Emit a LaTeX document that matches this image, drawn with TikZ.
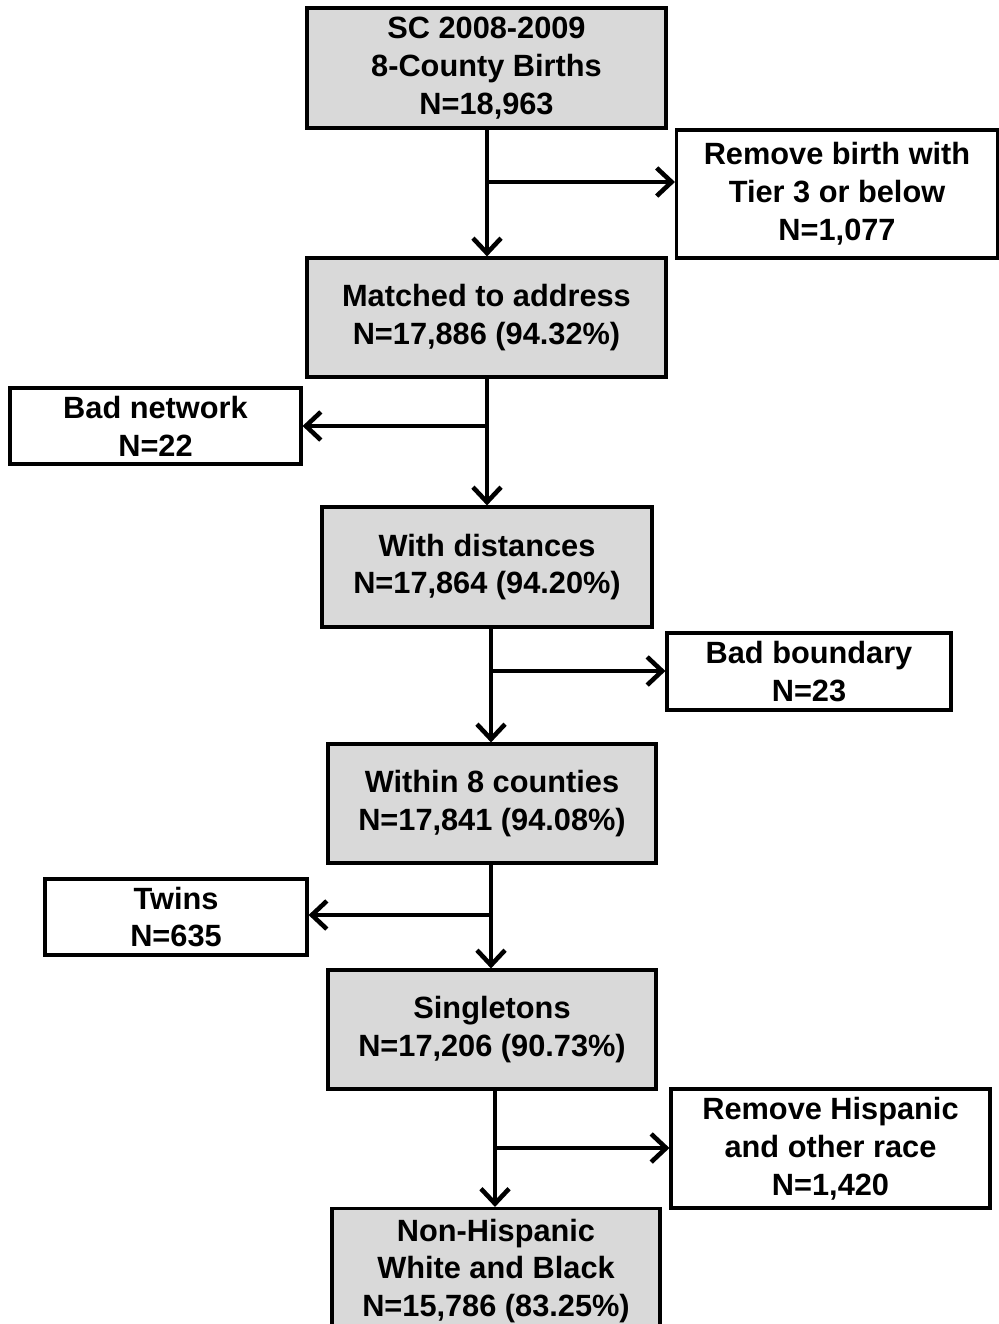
\documentclass[tikz,border=0pt]{standalone}
\usepackage{fontspec}
\setmainfont{Liberation Sans}
\usetikzlibrary{arrows.meta}
\definecolor{boxgray}{HTML}{D9D9D9}

\begin{document}
\begin{tikzpicture}[x=0.02cm,y=-0.02cm,
  base/.style={draw,line width=1.8pt,align=center,inner sep=0pt,
    font=\fontsize{17.5}{21.5}\selectfont\bfseries},
  keep/.style={base,fill=boxgray},
  drop/.style={base,fill=white},
  arr/.style={line width=2.6pt,-{Straight Barb[length=8.5pt,width=16pt]}}]
  \useasboundingbox (0,0) rectangle (999,1324);
  % main stream
  \node[keep,minimum width=7.18cm,minimum height=2.4cm] (births) at (486.5,68)
    {SC 2008-2009\\8-County Births\\N=18,963};
  \node[keep,minimum width=7.18cm,minimum height=2.38cm] (matched) at (486.5,317.5)
    {Matched to address\\N=17,886 (94.32\%)};
  \node[keep,minimum width=6.6cm,minimum height=2.4cm] (dist) at (487,567)
    {With distances\\N=17,864 (94.20\%)};
  \node[keep,minimum width=6.56cm,minimum height=2.38cm] (within) at (492,803.5)
    {Within 8 counties\\N=17,841 (94.08\%)};
  \node[keep,minimum width=6.56cm,minimum height=2.38cm] (single) at (492,1029.5)
    {Singletons\\N=17,206 (90.73\%)};
  \node[keep,minimum width=6.56cm,minimum height=2.5cm] (nonhisp) at (496,1271)
    {Non-Hispanic\\White and Black\\N=15,786 (83.25\%)};
  % excluded
  \node[drop,minimum width=6.42cm,minimum height=2.56cm] (tier) at (837,194)
    {Remove birth with\\Tier 3 or below\\N=1,077};
  \node[drop,minimum width=5.82cm,minimum height=1.52cm] (badnet) at (155.5,426)
    {Bad network\\N=22};
  \node[drop,minimum width=5.68cm,minimum height=1.54cm] (badbound) at (809,671.5)
    {Bad boundary\\N=23};
  \node[drop,minimum width=5.24cm,minimum height=1.52cm] (twins) at (176,917)
    {Twins\\N=635};
  \node[drop,minimum width=6.38cm,minimum height=2.38cm] (hisp) at (830.5,1148.5)
    {Remove Hispanic\\and other race\\N=1,420};
  % branch points
  \coordinate (b1) at (487,182);
  \coordinate (b2) at (487,426);
  \coordinate (b3) at (491,671);
  \coordinate (b4) at (491,915);
  \coordinate (b5) at (495,1148);
  \draw[arr] (births.south -| b1) -- (matched.north -| b1);
  \draw[arr] (matched.south -| b2) -- (dist.north -| b2);
  \draw[arr] (dist.south -| b3) -- (within.north -| b3);
  \draw[arr] (within.south -| b4) -- (single.north -| b4);
  \draw[arr] (single.south -| b5) -- (nonhisp.north -| b5);
  \draw[arr] (b1) -- (b1 -| tier.west);
  \draw[arr] (b2) -- (b2 -| badnet.east);
  \draw[arr] (b3) -- (b3 -| badbound.west);
  \draw[arr] (b4) -- (b4 -| twins.east);
  \draw[arr] (b5) -- (b5 -| hisp.west);
\end{tikzpicture}
\end{document}
